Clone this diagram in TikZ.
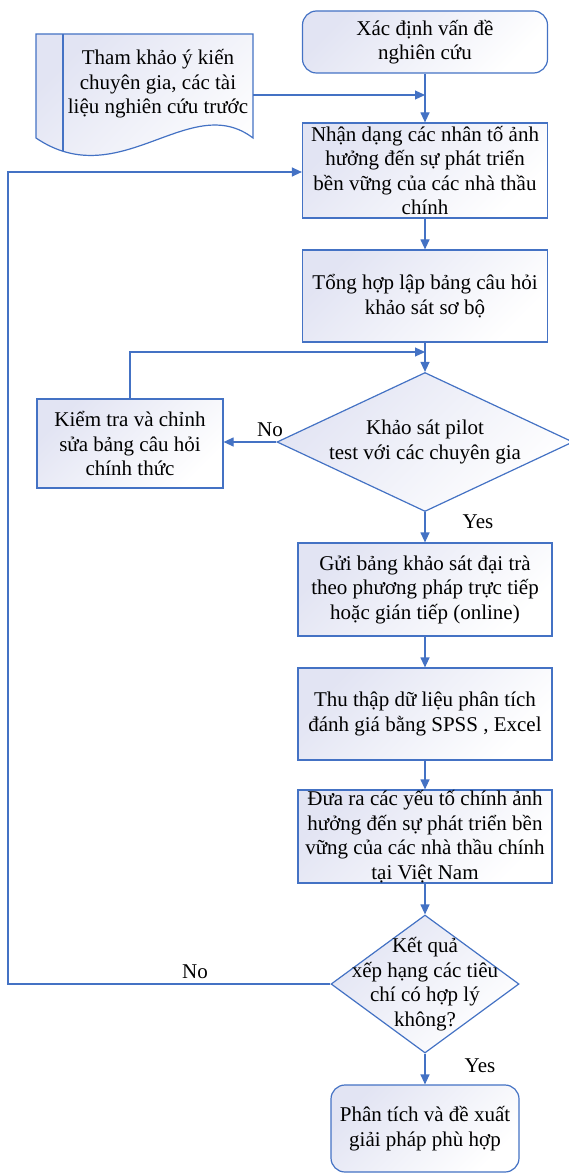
\documentclass[tikz,border=0pt]{standalone}
\usepackage{fontspec}
\setmainfont{Liberation Serif}
\usetikzlibrary{arrows.meta,shapes.geometric}
\definecolor{lineblue}{HTML}{4472C4}
\definecolor{fillblue}{HTML}{E2E4F3}
\tikzset{
  shade box/.style={draw=lineblue, line width=1.2pt, top color=fillblue, bottom color=white, shading angle=45},
  procbox/.style={shade box, rectangle, inner sep=0pt, align=center, font=\fontsize{21}{24.5}\selectfont},
  termbox/.style={procbox, rounded corners=14pt},
  decbox/.style={shade box, diamond, inner sep=0pt},
  txt/.style={align=center, font=\fontsize{21}{24.5}\selectfont, inner sep=0pt},
  conn/.style={draw=lineblue, line width=1.2pt, -{Triangle[length=10pt,width=9pt]}},
  line/.style={draw=lineblue, line width=1.2pt},
}
\begin{document}
\begin{tikzpicture}[x=1pt,y=-1pt]
\useasboundingbox (0,0) rectangle (568,1174);
% document shape
\path[shade box] (36,34) -- (253,34) -- (253,138) .. controls (190,90) and (120,195) .. (36,138) -- cycle;
\begin{scope}
\clip (36,34) -- (253,34) -- (253,138) .. controls (190,90) and (120,195) .. (36,138) -- cycle;
\draw[line] (63,34) -- (63,200);
\end{scope}
\node[txt] (doc) at (158,84) {Tham khảo ý kiến\\chuyên gia, các tài\\liệu nghiên cứu trước};
\coordinate (docout) at (253,95);

\node[termbox, minimum width=245pt, minimum height=62pt] (start) at (425,42) {Xác định vấn đề\\nghiên cứu};
\node[procbox, minimum width=245pt, minimum height=95pt] (nhan) at (425,170.5) {Nhận dạng các nhân tố ảnh\\hưởng đến sự phát triển\\bền vững của các nhà thầu\\chính};
\node[procbox, minimum width=245pt, minimum height=92pt] (tong) at (425,296) {Tổng hợp lập bảng câu hỏi\\khảo sát sơ bộ};
\node[decbox, minimum width=296pt, minimum height=139pt] (d1) at (425,442) {};
\node[txt] (d1t) at (425,442) {Khảo sát pilot\\test với các chuyên gia};
\node[procbox, minimum width=186pt, minimum height=89pt] (kiem) at (130,443.5) {Kiểm tra và chỉnh\\sửa bảng câu hỏi\\chính thức};
\node[procbox, minimum width=254pt, minimum height=93pt] (gui) at (425,589.5) {Gửi bảng khảo sát đại trà\\theo phương pháp trực tiếp\\hoặc gián tiếp (online)};
\node[procbox, minimum width=254pt, minimum height=92pt] (thu) at (425,714) {Thu thập dữ liệu phân tích\\đánh giá bằng SPSS , Excel};
\node[procbox, minimum width=254pt, minimum height=93pt] (dua) at (425,836.5) {Đưa ra các yếu tố chính ảnh\\hưởng đến sự phát triển bền\\vững của các nhà thầu chính\\tại Việt Nam};
\node[decbox, minimum width=188pt, minimum height=138pt] (d2) at (425,984) {};
\node[txt] (d2t) at (425,984) {Kết quả\\xếp hạng các tiêu\\chí có hợp lý\\không?};
\node[termbox, minimum width=188pt, minimum height=87pt] (final) at (425,1128.5) {Phân tích và đề xuất\\giải pháp phù hợp};

% labels
\node[txt] (no1) at (270,430) {No};
\node[txt] (yes1) at (478,522) {Yes};
\node[txt] (no2) at (195,972) {No};
\node[txt] (yes2) at (480,1066) {Yes};

% connectors
\draw[conn] (start.south) -- (nhan.north);
\coordinate (m1) at (start.south |- docout);
\draw[conn] (docout) -- (m1);
\draw[conn] (nhan.south) -- (tong.north);
\draw[conn] (tong.south) -- (d1.north);
\coordinate (loopa) at (130,352);
\coordinate (loopb) at (425,352);
\draw[conn] (kiem.north) -- (loopa) -- (loopb);
\draw[conn] (d1.west) -- (kiem.east |- d1.west);
\draw[conn] (d1.south) -- (gui.north);
\draw[conn] (gui.south) -- (thu.north);
\draw[conn] (thu.south) -- (dua.north);
\draw[conn] (dua.south) -- (d2.north);
\coordinate (fb1) at (8,984);
\coordinate (fb2) at (8,172);
\draw[conn] (d2.west) -- (fb1) -- (fb2) -- (nhan.west |- fb2);
\draw[conn] (d2.south) -- (final.north);
\end{tikzpicture}
\end{document}
